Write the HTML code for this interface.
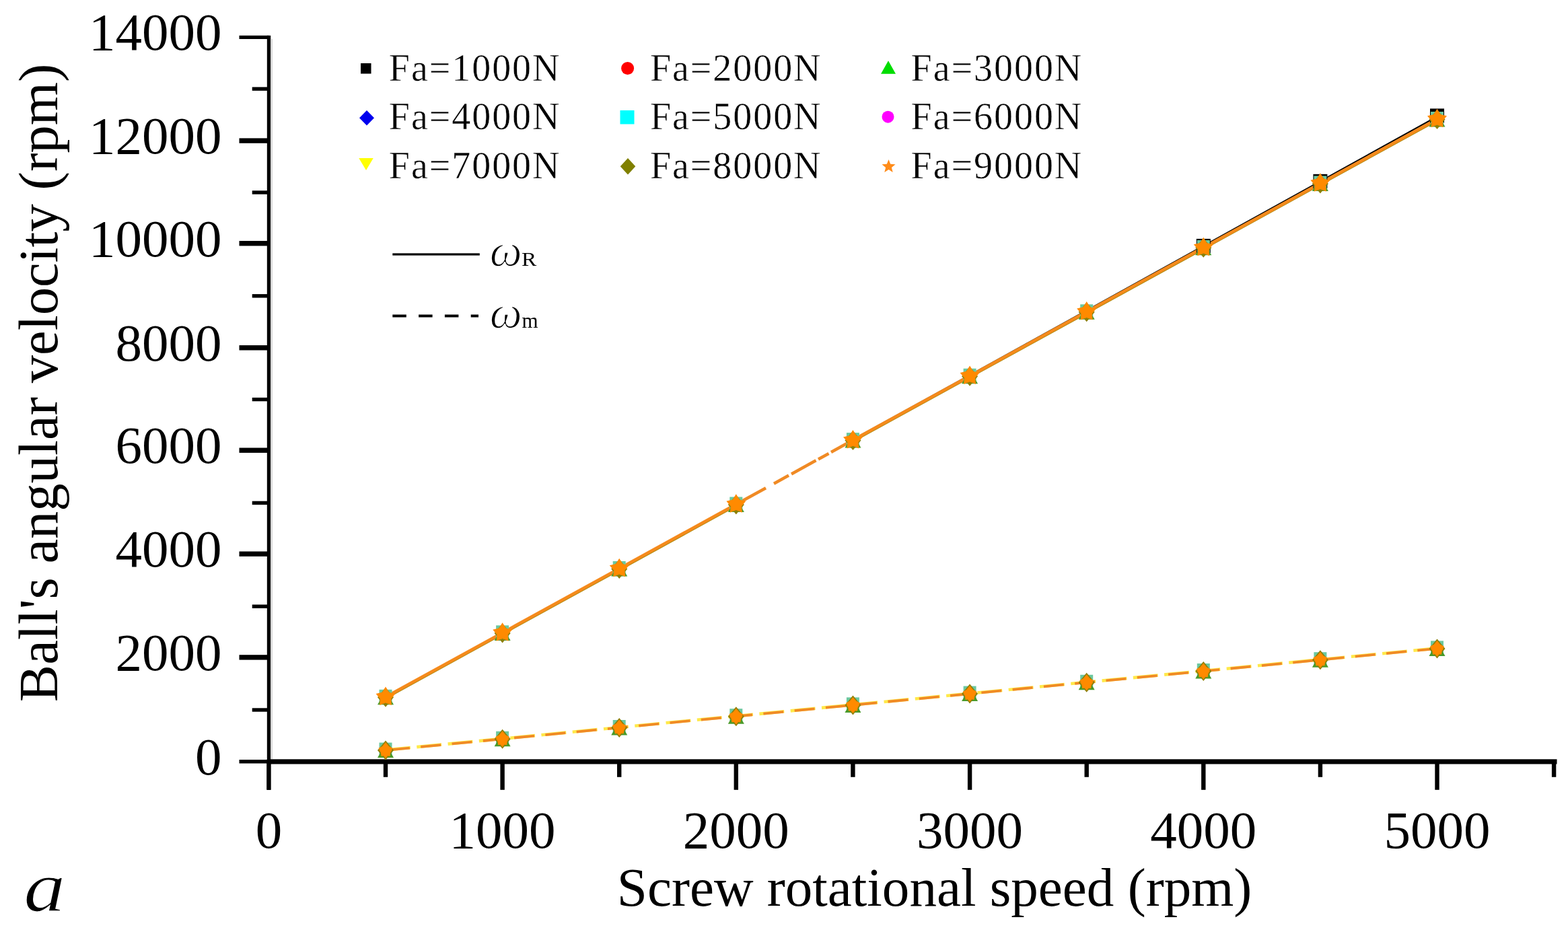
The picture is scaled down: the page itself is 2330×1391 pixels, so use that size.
<!DOCTYPE html>
<html><head><meta charset="utf-8"><title>Ball's angular velocity chart</title>
<style>html,body{margin:0;padding:0;background:#fff;}body{width:2330px;height:1391px;position:relative;overflow:hidden;}</style>
</head><body>
<svg width="2330" height="1391" viewBox="0 0 2330 1391" style="position:absolute;left:0;top:0">
<rect width="2330" height="1391" fill="#fff"/>
<rect x="396.8" y="52.8" width="5.4" height="1121.2" fill="#000"/>
<rect x="396.8" y="1128.3" width="1916.7" height="7.2" fill="#000"/>
<rect x="402.2" y="58" width="2.8" height="1070" fill="#d9d9d9"/>
<rect x="355.5" y="1129.0" width="44" height="5.5" fill="#000"/>
<rect x="374.7" y="1052.3" width="24" height="5.4" fill="#000"/>
<rect x="355.5" y="973.2" width="44" height="7.4" fill="#000"/>
<rect x="374.7" y="898.5" width="24" height="5.4" fill="#000"/>
<rect x="355.5" y="819.5" width="44" height="7.4" fill="#000"/>
<rect x="374.7" y="744.7" width="24" height="5.4" fill="#000"/>
<rect x="355.5" y="665.5" width="44" height="7.4" fill="#000"/>
<rect x="374.7" y="590.9" width="24" height="5.4" fill="#000"/>
<rect x="355.5" y="513.1" width="44" height="7.4" fill="#000"/>
<rect x="374.7" y="437.1" width="24" height="5.4" fill="#000"/>
<rect x="355.5" y="358.0" width="44" height="7.4" fill="#000"/>
<rect x="374.7" y="283.3" width="24" height="5.4" fill="#000"/>
<rect x="355.5" y="205.4" width="44" height="7.4" fill="#000"/>
<rect x="374.7" y="129.4" width="24" height="5.4" fill="#000"/>
<rect x="355.5" y="52.8" width="44" height="5.2" fill="#000"/>
<rect x="396.2" y="1130" width="6.4" height="43.8" fill="#000"/>
<rect x="569.8" y="1130" width="6.4" height="24.8" fill="#000"/>
<rect x="743.4" y="1130" width="6.4" height="43.8" fill="#000"/>
<rect x="917.0" y="1130" width="6.4" height="24.8" fill="#000"/>
<rect x="1090.6" y="1130" width="6.4" height="43.8" fill="#000"/>
<rect x="1264.2" y="1130" width="6.4" height="24.8" fill="#000"/>
<rect x="1437.9" y="1130" width="6.4" height="43.8" fill="#000"/>
<rect x="1611.5" y="1130" width="6.4" height="24.8" fill="#000"/>
<rect x="1785.1" y="1130" width="6.4" height="43.8" fill="#000"/>
<rect x="1958.7" y="1130" width="6.4" height="24.8" fill="#000"/>
<rect x="2132.3" y="1130" width="6.4" height="43.8" fill="#000"/>
<rect x="2305.9" y="1130" width="6.4" height="24.8" fill="#000"/>
<text x="329.5" y="1150.7" text-anchor="end" font-family="'Liberation Serif','Times New Roman',serif" font-size="79" fill="#000">0</text>
<text x="329.5" y="995.8" text-anchor="end" font-family="'Liberation Serif','Times New Roman',serif" font-size="79" fill="#000">2000</text>
<text x="329.5" y="842.1" text-anchor="end" font-family="'Liberation Serif','Times New Roman',serif" font-size="79" fill="#000">4000</text>
<text x="329.5" y="688.1" text-anchor="end" font-family="'Liberation Serif','Times New Roman',serif" font-size="79" fill="#000">6000</text>
<text x="329.5" y="535.7" text-anchor="end" font-family="'Liberation Serif','Times New Roman',serif" font-size="79" fill="#000">8000</text>
<text x="329.5" y="380.6" text-anchor="end" font-family="'Liberation Serif','Times New Roman',serif" font-size="79" fill="#000">10000</text>
<text x="329.5" y="228.0" text-anchor="end" font-family="'Liberation Serif','Times New Roman',serif" font-size="79" fill="#000">12000</text>
<text x="329.5" y="74.3" text-anchor="end" font-family="'Liberation Serif','Times New Roman',serif" font-size="79" fill="#000">14000</text>
<text x="399.4" y="1260" text-anchor="middle" font-family="'Liberation Serif','Times New Roman',serif" font-size="79" fill="#000">0</text>
<text x="746.6" y="1260" text-anchor="middle" font-family="'Liberation Serif','Times New Roman',serif" font-size="79" fill="#000">1000</text>
<text x="1093.8" y="1260" text-anchor="middle" font-family="'Liberation Serif','Times New Roman',serif" font-size="79" fill="#000">2000</text>
<text x="1441.1" y="1260" text-anchor="middle" font-family="'Liberation Serif','Times New Roman',serif" font-size="79" fill="#000">3000</text>
<text x="1788.3" y="1260" text-anchor="middle" font-family="'Liberation Serif','Times New Roman',serif" font-size="79" fill="#000">4000</text>
<text x="2135.5" y="1260" text-anchor="middle" font-family="'Liberation Serif','Times New Roman',serif" font-size="79" fill="#000">5000</text>
<text x="916.8" y="1346" font-family="'Liberation Serif','Times New Roman',serif" font-size="81.1" fill="#000">Screw rotational speed (rpm)</text>
<text transform="translate(84.7,1042.9) rotate(-90)" x="0" y="0" font-family="'Liberation Serif','Times New Roman',serif" font-size="82.6" fill="#000">Ball's angular velocity (rpm)</text>
<text transform="translate(35.3,1353.5) scale(1.18,1)" x="0" y="0" font-family="'Liberation Serif','Times New Roman',serif" font-style="italic" font-size="105" fill="#000" stroke="#fff" stroke-width="1.2">a</text>
<text x="577.8" y="120.2" font-family="'Liberation Serif','Times New Roman',serif" font-size="56" letter-spacing="1.95" fill="#000" stroke="#fff" stroke-width="0.45">Fa=1000N</text>
<text x="965.9" y="120.2" font-family="'Liberation Serif','Times New Roman',serif" font-size="56" letter-spacing="1.95" fill="#000" stroke="#fff" stroke-width="0.45">Fa=2000N</text>
<text x="1353.6" y="120.2" font-family="'Liberation Serif','Times New Roman',serif" font-size="56" letter-spacing="1.95" fill="#000" stroke="#fff" stroke-width="0.45">Fa=3000N</text>
<text x="577.8" y="192.2" font-family="'Liberation Serif','Times New Roman',serif" font-size="56" letter-spacing="1.95" fill="#000" stroke="#fff" stroke-width="0.45">Fa=4000N</text>
<text x="965.9" y="192.2" font-family="'Liberation Serif','Times New Roman',serif" font-size="56" letter-spacing="1.95" fill="#000" stroke="#fff" stroke-width="0.45">Fa=5000N</text>
<text x="1353.6" y="192.2" font-family="'Liberation Serif','Times New Roman',serif" font-size="56" letter-spacing="1.95" fill="#000" stroke="#fff" stroke-width="0.45">Fa=6000N</text>
<text x="577.8" y="265.0" font-family="'Liberation Serif','Times New Roman',serif" font-size="56" letter-spacing="1.95" fill="#000" stroke="#fff" stroke-width="0.45">Fa=7000N</text>
<text x="965.9" y="265.0" font-family="'Liberation Serif','Times New Roman',serif" font-size="56" letter-spacing="1.95" fill="#000" stroke="#fff" stroke-width="0.45">Fa=8000N</text>
<text x="1353.6" y="265.0" font-family="'Liberation Serif','Times New Roman',serif" font-size="56" letter-spacing="1.95" fill="#000" stroke="#fff" stroke-width="0.45">Fa=9000N</text>
<rect x="536" y="94" width="15.5" height="15.5" fill="#000"/>
<circle cx="932.6" cy="101.5" r="9.5" fill="#ff0000"/>
<polygon points="1320,90.25 1331.0,109.75 1309.0,109.75" fill="#00dd00"/>
<polygon points="545,164.0 556.0,175.3 545,186.60000000000002 534.0,175.3" fill="#0000ee"/>
<rect x="921.5" y="164" width="21" height="20.5" fill="#00ffff"/>
<circle cx="1319.5" cy="173.7" r="9" fill="#ff00ff"/>
<polygon points="544,253.0 554.75,235.0 533.25,235.0" fill="#ffff00"/>
<polygon points="933,235.0 944.25,247.3 933,259.6 921.75,247.3" fill="#808000"/>
<polygon points="1320.5,237.0 1323.2,243.8 1330.5,244.3 1324.9,248.9 1326.7,256.0 1320.5,252.1 1314.3,256.0 1316.1,248.9 1310.5,244.3 1317.8,243.8" fill="#ff8c1a"/>
<rect x="583.3" y="376.4" width="129.5" height="3.2" fill="#000"/>
<line x1="583.3" y1="469.5" x2="711" y2="469.5" stroke="#000" stroke-width="4.2" stroke-dasharray="20.5 18.3"/>
<text x="727.7" y="395.3" font-family="'Liberation Serif','Times New Roman',serif" fill="#000" font-style="italic" font-size="68" stroke="#fff" stroke-width="1.6">ω</text>
<text x="775" y="395.3" font-family="'Liberation Serif','Times New Roman',serif" fill="#000" font-size="29" transform="translate(775,0) scale(1.15,1) translate(-775,0)">R</text>
<text x="727.7" y="487.2" font-family="'Liberation Serif','Times New Roman',serif" fill="#000" font-style="italic" font-size="68" stroke="#fff" stroke-width="1.6">ω</text>
<text x="775.5" y="487.2" font-family="'Liberation Serif','Times New Roman',serif" fill="#000" font-size="31">m</text>
<polyline points="1267.4,653.2 1441.1,557.4 1614.7,461.5 1788.3,365.5 1961.9,269.4 2135.5,173.2" fill="none" stroke="#000" stroke-width="2.2"/>
<polyline points="573.0,1037.2 746.6,941.8 920.2,846.4 1093.8,750.9" fill="none" stroke="#b08a10" stroke-width="4"/>
<polyline points="1267.4,655.5 1441.1,560.1 1614.7,464.7 1788.3,369.3 1961.9,273.8 2135.5,178.4" fill="none" stroke="#b08a10" stroke-width="4"/>
<polyline points="573.0,1035.8 746.6,940.4 920.2,845.0 1093.8,749.5" fill="none" stroke="#f58a1c" stroke-width="4.6" stroke-linejoin="round"/>
<polyline points="1267.4,654.1 1441.1,558.7 1614.7,463.3 1788.3,367.9 1961.9,272.4 2135.5,177.0" fill="none" stroke="#f58a1c" stroke-width="4.6" stroke-linejoin="round"/>
<line x1="1093.8" y1="749.5" x2="1138.0" y2="725.3" stroke="#f08a24" stroke-width="4.6" />
<line x1="1150.0" y1="718.7" x2="1172.0" y2="706.6" stroke="#f08a24" stroke-width="4.6" />
<line x1="1176.0" y1="704.4" x2="1212.5" y2="684.3" stroke="#f08a24" stroke-width="4.6" />
<line x1="1216.0" y1="682.4" x2="1231.5" y2="673.9" stroke="#f08a24" stroke-width="4.6" />
<line x1="1235.0" y1="672.0" x2="1267.4" y2="654.1" stroke="#f08a24" stroke-width="4.6" />
<polyline points="573.0,1114.6 746.6,1097.8 920.2,1081.0 1093.8,1064.2 1267.4,1047.4 1441.1,1030.6 1614.7,1013.8 1788.3,997.0 1961.9,980.2 2135.5,963.4" fill="none" stroke="#ffe94a" stroke-width="4.6" stroke-dasharray="37 9.5"/>
<polyline points="573.0,1115.0 746.6,1098.2 920.2,1081.4 1093.8,1064.6 1267.4,1047.8 1441.1,1031.0 1614.7,1014.2 1788.3,997.4 1961.9,980.6 2135.5,963.8" fill="none" stroke="#f08a26" stroke-width="3.8" stroke-dasharray="30 16.5" stroke-dashoffset="-6"/>
<rect x="563.5" y="1024.8" width="19" height="19" fill="#6cc8a0"/><polygon points="573.01,1026.3 585.01,1047.3 561.01,1047.3" fill="#4a9a2a"/><polygon points="573.01,1021.8 585.01,1036.3 573.01,1050.8 561.01,1036.3" fill="#8c8008"/><polygon points="573.0,1020.6 578.1,1028.8 587.5,1031.1 581.2,1038.5 581.9,1048.1 573.0,1044.4 564.1,1048.1 564.8,1038.5 558.6,1031.1 568.0,1028.8" fill="#ff8a00"/>
<rect x="563.5" y="1103.6" width="19" height="19" fill="#6cc8a0"/><polygon points="573.01,1105.1 585.01,1126.1 561.01,1126.1" fill="#4a9a2a"/><polygon points="573.01,1100.6 585.01,1115.1 573.01,1129.6 561.01,1115.1" fill="#8c8008"/><polygon points="573.01,1103.1 582.51,1115.1 573.01,1127.1 563.51,1115.1" fill="#ff8a00"/><polygon points="573.0,1104.1 577.4,1109.0 583.5,1111.7 580.1,1117.4 579.5,1124.0 573.0,1122.6 566.5,1124.0 565.9,1117.4 562.5,1111.7 568.6,1109.0" fill="#ff8a00"/>
<rect x="737.1" y="929.4" width="19" height="19" fill="#6cc8a0"/><polygon points="746.6199999999999,930.88 758.6199999999999,951.88 734.6199999999999,951.88" fill="#4a9a2a"/><polygon points="746.6199999999999,926.38 758.6199999999999,940.88 746.6199999999999,955.38 734.6199999999999,940.88" fill="#8c8008"/><polygon points="746.6,925.2 751.7,933.4 761.1,935.7 754.8,943.0 755.6,952.7 746.6,949.0 737.7,952.7 738.4,943.0 732.2,935.7 741.6,933.4" fill="#ff8a00"/>
<rect x="737.1" y="1086.8" width="19" height="19" fill="#6cc8a0"/><polygon points="746.6199999999999,1088.3 758.6199999999999,1109.3 734.6199999999999,1109.3" fill="#4a9a2a"/><polygon points="746.6199999999999,1083.8 758.6199999999999,1098.3 746.6199999999999,1112.8 734.6199999999999,1098.3" fill="#8c8008"/><polygon points="746.6199999999999,1086.3 756.1199999999999,1098.3 746.6199999999999,1110.3 737.1199999999999,1098.3" fill="#ff8a00"/><polygon points="746.6,1087.3 751.0,1092.2 757.1,1094.9 753.8,1100.6 753.1,1107.2 746.6,1105.8 740.2,1107.2 739.5,1100.6 736.2,1094.9 742.2,1092.2" fill="#ff8a00"/>
<rect x="910.7" y="834.0" width="19" height="19" fill="#6cc8a0"/><polygon points="920.2299999999999,835.4599999999999 932.2299999999999,856.4599999999999 908.2299999999999,856.4599999999999" fill="#4a9a2a"/><polygon points="920.2299999999999,830.9599999999999 932.2299999999999,845.4599999999999 920.2299999999999,859.9599999999999 908.2299999999999,845.4599999999999" fill="#8c8008"/><polygon points="920.2,829.8 925.3,838.0 934.7,840.3 928.4,847.6 929.2,857.3 920.2,853.6 911.3,857.3 912.1,847.6 905.8,840.3 915.2,838.0" fill="#ff8a00"/>
<rect x="910.7" y="1070.0" width="19" height="19" fill="#6cc8a0"/><polygon points="920.2299999999999,1071.5 932.2299999999999,1092.5 908.2299999999999,1092.5" fill="#4a9a2a"/><polygon points="920.2299999999999,1067.0 932.2299999999999,1081.5 920.2299999999999,1096.0 908.2299999999999,1081.5" fill="#8c8008"/><polygon points="920.2299999999999,1069.5 929.7299999999999,1081.5 920.2299999999999,1093.5 910.7299999999999,1081.5" fill="#ff8a00"/><polygon points="920.2,1070.5 924.6,1075.4 930.7,1078.1 927.4,1083.8 926.7,1090.4 920.2,1089.0 913.8,1090.4 913.1,1083.8 909.8,1078.1 915.8,1075.4" fill="#ff8a00"/>
<rect x="1084.3" y="738.5" width="19" height="19" fill="#6cc8a0"/><polygon points="1093.84,740.04 1105.84,761.04 1081.84,761.04" fill="#4a9a2a"/><polygon points="1093.84,735.54 1105.84,750.04 1093.84,764.54 1081.84,750.04" fill="#8c8008"/><polygon points="1093.8,734.3 1098.9,742.6 1108.3,744.8 1102.0,752.2 1102.8,761.8 1093.8,758.1 1084.9,761.8 1085.7,752.2 1079.4,744.8 1088.8,742.6" fill="#ff8a00"/>
<rect x="1084.3" y="1053.2" width="19" height="19" fill="#6cc8a0"/><polygon points="1093.84,1054.6999999999998 1105.84,1075.6999999999998 1081.84,1075.6999999999998" fill="#4a9a2a"/><polygon points="1093.84,1050.1999999999998 1105.84,1064.6999999999998 1093.84,1079.1999999999998 1081.84,1064.6999999999998" fill="#8c8008"/><polygon points="1093.84,1052.6999999999998 1103.34,1064.6999999999998 1093.84,1076.6999999999998 1084.34,1064.6999999999998" fill="#ff8a00"/><polygon points="1093.8,1053.7 1098.2,1058.6 1104.3,1061.3 1101.0,1067.0 1100.3,1073.6 1093.8,1072.2 1087.4,1073.6 1086.7,1067.0 1083.4,1061.3 1089.4,1058.6" fill="#ff8a00"/>
<rect x="1257.9" y="643.1" width="19" height="19" fill="#6cc8a0"/><polygon points="1267.4499999999998,644.6199999999999 1279.4499999999998,665.6199999999999 1255.4499999999998,665.6199999999999" fill="#4a9a2a"/><polygon points="1267.4499999999998,640.1199999999999 1279.4499999999998,654.6199999999999 1267.4499999999998,669.1199999999999 1255.4499999999998,654.6199999999999" fill="#8c8008"/><polygon points="1267.4,638.9 1272.5,647.2 1281.9,649.4 1275.6,656.8 1276.4,666.4 1267.4,662.7 1258.5,666.4 1259.3,656.8 1253.0,649.4 1262.4,647.2" fill="#ff8a00"/>
<rect x="1257.9" y="1036.4" width="19" height="19" fill="#6cc8a0"/><polygon points="1267.4499999999998,1037.8999999999999 1279.4499999999998,1058.8999999999999 1255.4499999999998,1058.8999999999999" fill="#4a9a2a"/><polygon points="1267.4499999999998,1033.3999999999999 1279.4499999999998,1047.8999999999999 1267.4499999999998,1062.3999999999999 1255.4499999999998,1047.8999999999999" fill="#8c8008"/><polygon points="1267.4499999999998,1035.8999999999999 1276.9499999999998,1047.8999999999999 1267.4499999999998,1059.8999999999999 1257.9499999999998,1047.8999999999999" fill="#ff8a00"/><polygon points="1267.4,1036.9 1271.9,1041.8 1277.9,1044.5 1274.6,1050.2 1273.9,1056.8 1267.4,1055.4 1261.0,1056.8 1260.3,1050.2 1257.0,1044.5 1263.0,1041.8" fill="#ff8a00"/>
<rect x="1431.6" y="547.7" width="19" height="19" fill="#6cc8a0"/><polygon points="1441.06,549.1999999999999 1453.06,570.1999999999999 1429.06,570.1999999999999" fill="#4a9a2a"/><polygon points="1441.06,544.6999999999999 1453.06,559.1999999999999 1441.06,573.6999999999999 1429.06,559.1999999999999" fill="#8c8008"/><polygon points="1441.1,543.5 1446.1,551.7 1455.5,554.0 1449.2,561.4 1450.0,571.0 1441.1,567.3 1432.1,571.0 1432.9,561.4 1426.6,554.0 1436.0,551.7" fill="#ff8a00"/>
<rect x="1431.6" y="1019.6" width="19" height="19" fill="#6cc8a0"/><polygon points="1441.06,1021.0999999999999 1453.06,1042.1 1429.06,1042.1" fill="#4a9a2a"/><polygon points="1441.06,1016.5999999999999 1453.06,1031.1 1441.06,1045.6 1429.06,1031.1" fill="#8c8008"/><polygon points="1441.06,1019.0999999999999 1450.56,1031.1 1441.06,1043.1 1431.56,1031.1" fill="#ff8a00"/><polygon points="1441.1,1020.1 1445.5,1025.0 1451.5,1027.7 1448.2,1033.4 1447.5,1040.0 1441.1,1038.6 1434.6,1040.0 1433.9,1033.4 1430.6,1027.7 1436.7,1025.0" fill="#ff8a00"/>
<rect x="1605.2" y="452.3" width="19" height="19" fill="#6cc8a0"/><polygon points="1614.67,453.78 1626.67,474.78 1602.67,474.78" fill="#4a9a2a"/><polygon points="1614.67,449.28 1626.67,463.78 1614.67,478.28 1602.67,463.78" fill="#8c8008"/><polygon points="1614.7,448.1 1619.7,456.3 1629.1,458.6 1622.8,465.9 1623.6,475.6 1614.7,471.9 1605.7,475.6 1606.5,465.9 1600.2,458.6 1609.6,456.3" fill="#ff8a00"/>
<rect x="1605.2" y="1002.8" width="19" height="19" fill="#6cc8a0"/><polygon points="1614.67,1004.3 1626.67,1025.3 1602.67,1025.3" fill="#4a9a2a"/><polygon points="1614.67,999.8 1626.67,1014.3 1614.67,1028.8 1602.67,1014.3" fill="#8c8008"/><polygon points="1614.67,1002.3 1624.17,1014.3 1614.67,1026.3 1605.17,1014.3" fill="#ff8a00"/><polygon points="1614.7,1003.3 1619.1,1008.2 1625.1,1010.9 1621.8,1016.6 1621.1,1023.2 1614.7,1021.8 1608.2,1023.2 1607.5,1016.6 1604.2,1010.9 1610.3,1008.2" fill="#ff8a00"/>
<rect x="1777.8" y="354.9" width="21" height="21" fill="#000"/><rect x="1778.8" y="356.9" width="19" height="19" fill="#6cc8a0"/><polygon points="1788.2799999999997,358.3599999999999 1800.2799999999997,379.3599999999999 1776.2799999999997,379.3599999999999" fill="#4a9a2a"/><polygon points="1788.2799999999997,353.8599999999999 1800.2799999999997,368.3599999999999 1788.2799999999997,382.8599999999999 1776.2799999999997,368.3599999999999" fill="#8c8008"/><polygon points="1788.3,352.7 1793.3,360.9 1802.7,363.2 1796.5,370.5 1797.2,380.2 1788.3,376.5 1779.3,380.2 1780.1,370.5 1773.8,363.2 1783.2,360.9" fill="#ff8a00"/>
<rect x="1778.8" y="986.0" width="19" height="19" fill="#6cc8a0"/><polygon points="1788.2799999999997,987.4999999999999 1800.2799999999997,1008.4999999999999 1776.2799999999997,1008.4999999999999" fill="#4a9a2a"/><polygon points="1788.2799999999997,982.9999999999999 1800.2799999999997,997.4999999999999 1788.2799999999997,1011.9999999999999 1776.2799999999997,997.4999999999999" fill="#8c8008"/><polygon points="1788.2799999999997,985.4999999999999 1797.7799999999997,997.4999999999999 1788.2799999999997,1009.4999999999999 1778.7799999999997,997.4999999999999" fill="#ff8a00"/><polygon points="1788.3,986.5 1792.7,991.4 1798.7,994.1 1795.4,999.8 1794.7,1006.4 1788.3,1005.0 1781.8,1006.4 1781.1,999.8 1777.8,994.1 1783.9,991.4" fill="#ff8a00"/>
<rect x="1951.4" y="258.8" width="21" height="21" fill="#000"/><rect x="1952.4" y="261.4" width="19" height="19" fill="#6cc8a0"/><polygon points="1961.8899999999999,262.93999999999994 1973.8899999999999,283.93999999999994 1949.8899999999999,283.93999999999994" fill="#4a9a2a"/><polygon points="1961.8899999999999,258.43999999999994 1973.8899999999999,272.93999999999994 1961.8899999999999,287.43999999999994 1949.8899999999999,272.93999999999994" fill="#8c8008"/><polygon points="1961.9,257.2 1966.9,265.5 1976.3,267.7 1970.1,275.1 1970.8,284.7 1961.9,281.0 1953.0,284.7 1953.7,275.1 1947.4,267.7 1956.8,265.5" fill="#ff8a00"/>
<rect x="1952.4" y="969.2" width="19" height="19" fill="#6cc8a0"/><polygon points="1961.8899999999999,970.6999999999999 1973.8899999999999,991.6999999999999 1949.8899999999999,991.6999999999999" fill="#4a9a2a"/><polygon points="1961.8899999999999,966.1999999999999 1973.8899999999999,980.6999999999999 1961.8899999999999,995.1999999999999 1949.8899999999999,980.6999999999999" fill="#8c8008"/><polygon points="1961.8899999999999,968.6999999999999 1971.3899999999999,980.6999999999999 1961.8899999999999,992.6999999999999 1952.3899999999999,980.6999999999999" fill="#ff8a00"/><polygon points="1961.9,969.7 1966.3,974.6 1972.4,977.3 1969.0,983.0 1968.4,989.6 1961.9,988.2 1955.4,989.6 1954.8,983.0 1951.4,977.3 1957.5,974.6" fill="#ff8a00"/>
<rect x="2125.0" y="161.4" width="21" height="21" fill="#000"/><rect x="2126.0" y="166.0" width="19" height="19" fill="#6cc8a0"/><polygon points="2135.5,167.51999999999998 2147.5,188.51999999999998 2123.5,188.51999999999998" fill="#4a9a2a"/><polygon points="2135.5,163.01999999999998 2147.5,177.51999999999998 2135.5,192.01999999999998 2123.5,177.51999999999998" fill="#8c8008"/><polygon points="2135.5,161.8 2140.6,170.1 2150.0,172.3 2143.7,179.7 2144.4,189.3 2135.5,185.6 2126.6,189.3 2127.3,179.7 2121.0,172.3 2130.4,170.1" fill="#ff8a00"/>
<rect x="2126.0" y="952.4" width="19" height="19" fill="#6cc8a0"/><polygon points="2135.5,953.8999999999999 2147.5,974.8999999999999 2123.5,974.8999999999999" fill="#4a9a2a"/><polygon points="2135.5,949.3999999999999 2147.5,963.8999999999999 2135.5,978.3999999999999 2123.5,963.8999999999999" fill="#8c8008"/><polygon points="2135.5,951.8999999999999 2145.0,963.8999999999999 2135.5,975.8999999999999 2126.0,963.8999999999999" fill="#ff8a00"/><polygon points="2135.5,952.9 2139.9,957.8 2146.0,960.5 2142.6,966.2 2142.0,972.8 2135.5,971.4 2129.0,972.8 2128.4,966.2 2125.0,960.5 2131.1,957.8" fill="#ff8a00"/>
</svg>
</body></html>
